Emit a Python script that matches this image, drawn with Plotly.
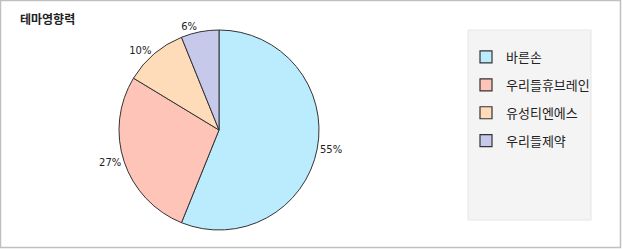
import plotly.graph_objects as go

title = "테마영향력"
labels = ["바른손", "우리들휴브레인", "유성티엔에스", "우리들제약"]
values = [55, 27, 10, 6]
colors = ["#bbecfe", "#ffc4b8", "#fedcb9", "#c6c9ea"]

W, H = 622, 249
fig = go.Figure()

fig.add_trace(go.Pie(
    labels=labels, values=values, sort=False, direction="clockwise", rotation=0,
    marker=dict(colors=colors, line=dict(color="#333333", width=1)),
    texttemplate="%{value}%", textposition="outside",
    textfont=dict(family="DejaVu Sans", size=10, color="#222222"),
    showlegend=False, hoverinfo="label+percent",
    domain=dict(x=[(219 - 100) / W, (219 + 100) / W], y=[1 - (130 + 100) / H, 1 - (130 - 100) / H]),
))

for lab, col in zip(labels, colors):
    fig.add_trace(go.Scatter(
        x=[None], y=[None], mode="markers", name=lab, legendgroup=lab,
        marker=dict(symbol="square", size=12, color=col, line=dict(color="#333333", width=1.2)),
        xaxis="x", yaxis="y",
    ))

fig.update_layout(
    width=W, height=H, margin=dict(l=0, r=0, t=0, b=0),
    paper_bgcolor="white", plot_bgcolor="rgba(0,0,0,0)",
    xaxis=dict(visible=False), yaxis=dict(visible=False),
    font=dict(family="Noto Sans CJK KR", size=12, color="#222222"),
    legend=dict(x=466 / W, y=1 - 42 / H, xanchor="left", yanchor="top",
                bgcolor="rgba(0,0,0,0)", tracegroupgap=8,
                font=dict(family="Noto Sans CJK KR", size=13, color="#222222")),
    annotations=[dict(text="<b>" + title + "</b>", x=18 / W, y=1 - 18 / H, xref="paper", yref="paper",
                      xanchor="left", yanchor="middle", showarrow=False,
                      font=dict(family="Noto Sans CJK KR", size=12, color="#222222"))],
    shapes=[
        dict(type="rect", xref="paper", yref="paper", x0=468 / W, x1=591 / W, y0=1 - 220 / H, y1=1 - 30 / H,
             fillcolor="#f4f4f4", line=dict(color="#e6e6e6", width=1), layer="below"),
        dict(type="rect", xref="paper", yref="paper", x0=0.5 / W, x1=620.5 / W, y0=1 - 247.5 / H, y1=1 - 0.5 / H,
             fillcolor="rgba(0,0,0,0)", line=dict(color="#c0c0c0", width=1.5)),
    ],
)

fig.write_html("out.html")
